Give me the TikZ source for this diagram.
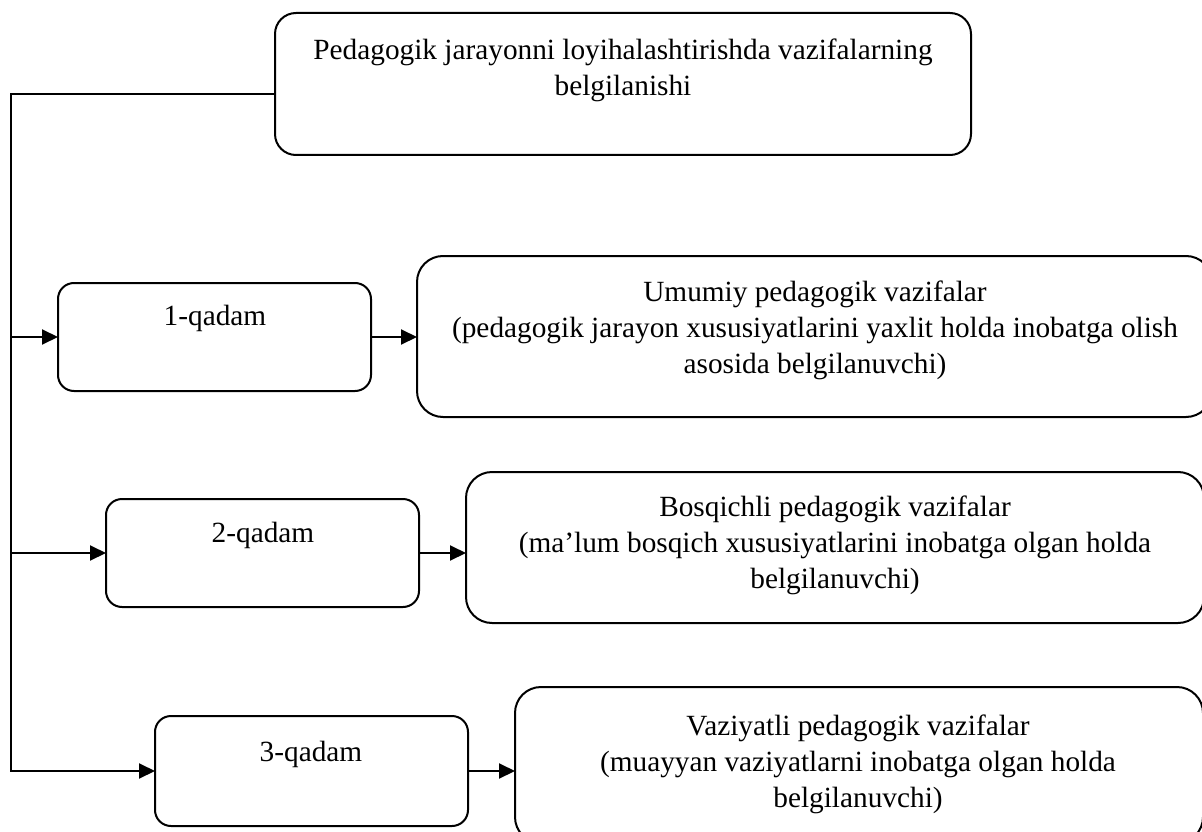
\documentclass[tikz,border=0pt]{standalone}
\usepackage{fontspec}
\setmainfont{Liberation Serif}
\usetikzlibrary{arrows.meta}
\begin{document}
\begin{tikzpicture}[x=1pt,y=-1pt,
  box/.style={draw=black, line width=2pt, rounded corners=#1, inner sep=0pt, outer sep=0pt, fill=white},
  box/.default=16pt,
  txt/.style={font=\fontsize{29.3}{36}\selectfont, align=center, inner sep=0pt},
  conn/.style={draw=black, line width=2pt},
  arr/.style={conn, -{Triangle[length=16pt,width=15pt]}}]
\useasboundingbox (0,0) rectangle (1202,832);
\begin{scope}
\clip (0,0) rectangle (1202,832);
% boxes
\node[box=21pt, minimum width=696pt, minimum height=142pt] (top) at (623,84) {};
\node[box=26pt, minimum width=795pt, minimum height=161pt] (b1) at (814.5,336.5) {};
\node[box=26pt, minimum width=738pt, minimum height=151pt] (b2) at (835,547.5) {};
\node[box=26pt, minimum width=688pt, minimum height=156pt] (b3) at (859,765) {};
\node[box, minimum width=313pt, minimum height=108pt] (s1) at (214.5,337) {};
\node[box, minimum width=313pt, minimum height=108pt] (s2) at (262.5,553) {};
\node[box, minimum width=313pt, minimum height=110pt] (s3) at (311.5,771) {};
% texts
\node[txt] (ttop) at (623,70) {Pedagogik jarayonni loyihalashtirishda vazifalarning\\belgilanishi};
\node[txt] (t1) at (815,330) {Umumiy pedagogik vazifalar\\(pedagogik jarayon xususiyatlarini yaxlit holda inobatga olish\\asosida belgilanuvchi)};
\node[txt] (t2) at (835,545) {Bosqichli pedagogik vazifalar\\(ma’lum bosqich xususiyatlarini inobatga olgan holda\\belgilanuvchi)};
\node[txt] (t3) at (858,764) {Vaziyatli pedagogik vazifalar\\(muayyan vaziyatlarni inobatga olgan holda\\belgilanuvchi)};
\node[txt] (ts1) at (215,318) {1-qadam};
\node[txt] (ts2) at (263,535) {2-qadam};
\node[txt] (ts3) at (311,754) {3-qadam};
% connectors
\coordinate (tk) at (11,94);
\draw[arr] (top.west |- tk) -- (tk) |- (s3.west);
\draw[arr] (tk |- s1.west) -- (s1.west);
\draw[arr] (tk |- s2.west) -- (s2.west);
\draw[arr] (s1.east) -- (s1.east -| b1.west);
\draw[arr] (s2.east) -- (s2.east -| b2.west);
\draw[arr] (s3.east) -- (s3.east -| b3.west);
\end{scope}
\end{tikzpicture}
\end{document}
